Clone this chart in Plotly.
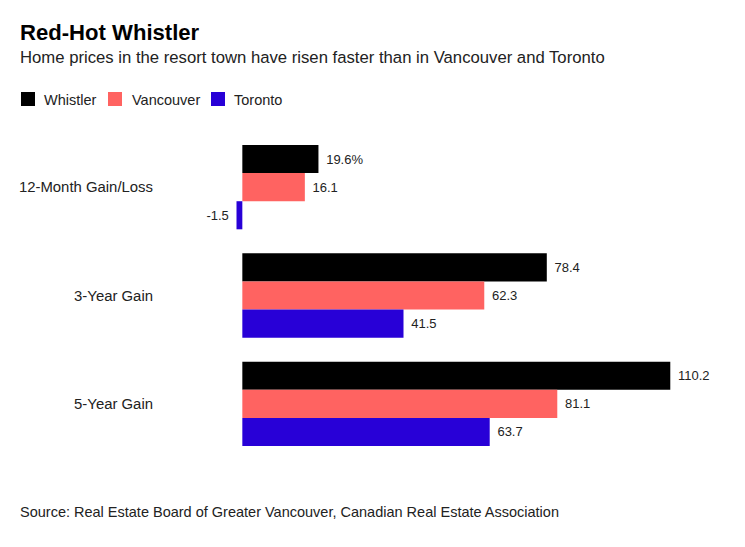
import plotly.graph_objects as go

categories = ["12-Month Gain/Loss", "3-Year Gain", "5-Year Gain"]
series_names = ["Whistler", "Vancouver", "Toronto"]
whistler = [19.6, 78.4, 110.2]
vancouver = [16.1, 62.3, 81.1]
toronto = [-1.5, 41.5, 63.7]
whistler_labels = ["19.6%", "78.4", "110.2"]
vancouver_labels = ["16.1", "62.3", "81.1"]
toronto_labels = ["-1.5", "41.5", "63.7"]

colors = ["#000000", "#FF6361", "#2800D7"]
FONT = "Liberation Sans, Arial, sans-serif"
PAD = "\u00a0\u200a"

OFF = 8  # page body margin
FW, FH = 745 - OFF, 547 - OFF
# plot area in window coordinates
PL, PT, PB, PR = 160, 133, 458, 720
L, T = PL - OFF, PT - OFF
B = FH - (PB - OFF)
R = FW - (PR - OFF)
H = PB - PT
W = PR - PL


def px(x):
    return (x - PL) / W


def py(y):
    return (PB - y) / H


fig = go.Figure()
for name, vals, labels, col in zip(series_names, [whistler, vancouver, toronto],
                                   [whistler_labels, vancouver_labels, toronto_labels], colors):
    txt = [(PAD + l) if v >= 0 else (l + PAD) for l, v in zip(labels, vals)]
    fig.add_trace(go.Bar(
        y=categories, x=vals, name=name, orientation="h",
        marker=dict(color=col, line=dict(width=0)),
        text=txt, textposition="outside", constraintext="none",
        textfont=dict(family=FONT, size=13, color="#222222"),
        cliponaxis=False, hoverinfo="skip", showlegend=False,
    ))

# manual legend (window coords)
legend_sq_x = [21, 108, 211]
legend_tx_x = [43, 131, 233]
shapes = []
annotations = []
for name, col, sx, tx in zip(series_names, colors, legend_sq_x, legend_tx_x):
    shapes.append(dict(type="rect", xref="paper", yref="paper",
                       x0=px(sx), x1=px(sx + 14), y0=py(106), y1=py(92),
                       fillcolor=col, line=dict(width=0)))
    annotations.append(dict(text=name, x=px(tx - 1), y=py(99.5), xref="paper", yref="paper",
                            xanchor="left", yanchor="middle", showarrow=False,
                            font=dict(family=FONT, size=14.5, color="#222222")))

annotations += [
    dict(text="<b>Red-Hot Whistler</b>", x=px(18), y=py(32), xref="paper", yref="paper",
         xanchor="left", yanchor="middle", showarrow=False,
         font=dict(family=FONT, size=22.1, color="#000000")),
    dict(text="Home prices in the resort town have risen faster than in Vancouver and Toronto",
         x=px(18), y=py(57), xref="paper", yref="paper",
         xanchor="left", yanchor="middle", showarrow=False,
         font=dict(family=FONT, size=16.7, color="#222222")),
    dict(text="Source: Real Estate Board of Greater Vancouver, Canadian Real Estate Association",
         x=px(18), y=py(512), xref="paper", yref="paper",
         xanchor="left", yanchor="middle", showarrow=False,
         font=dict(family=FONT, size=14.5, color="#222222")),
]

fig.update_layout(
    width=FW, height=FH,
    margin=dict(l=L, r=R, t=T, b=B, pad=0),
    paper_bgcolor="white", plot_bgcolor="white",
    barmode="group", bargap=0.222, bargroupgap=0,
    font=dict(family=FONT, color="#222222"),
    showlegend=False,
    xaxis=dict(range=[-21.2, 123.0], showgrid=False, zeroline=False,
               showticklabels=False, showline=False, ticks=""),
    yaxis=dict(autorange="reversed", showgrid=False, zeroline=False, showline=False,
               ticks="", ticklabelstandoff=6,
               tickfont=dict(family=FONT, size=14.9, color="#222222")),
    shapes=shapes,
    annotations=annotations,
)

fig.write_html("out.html")
